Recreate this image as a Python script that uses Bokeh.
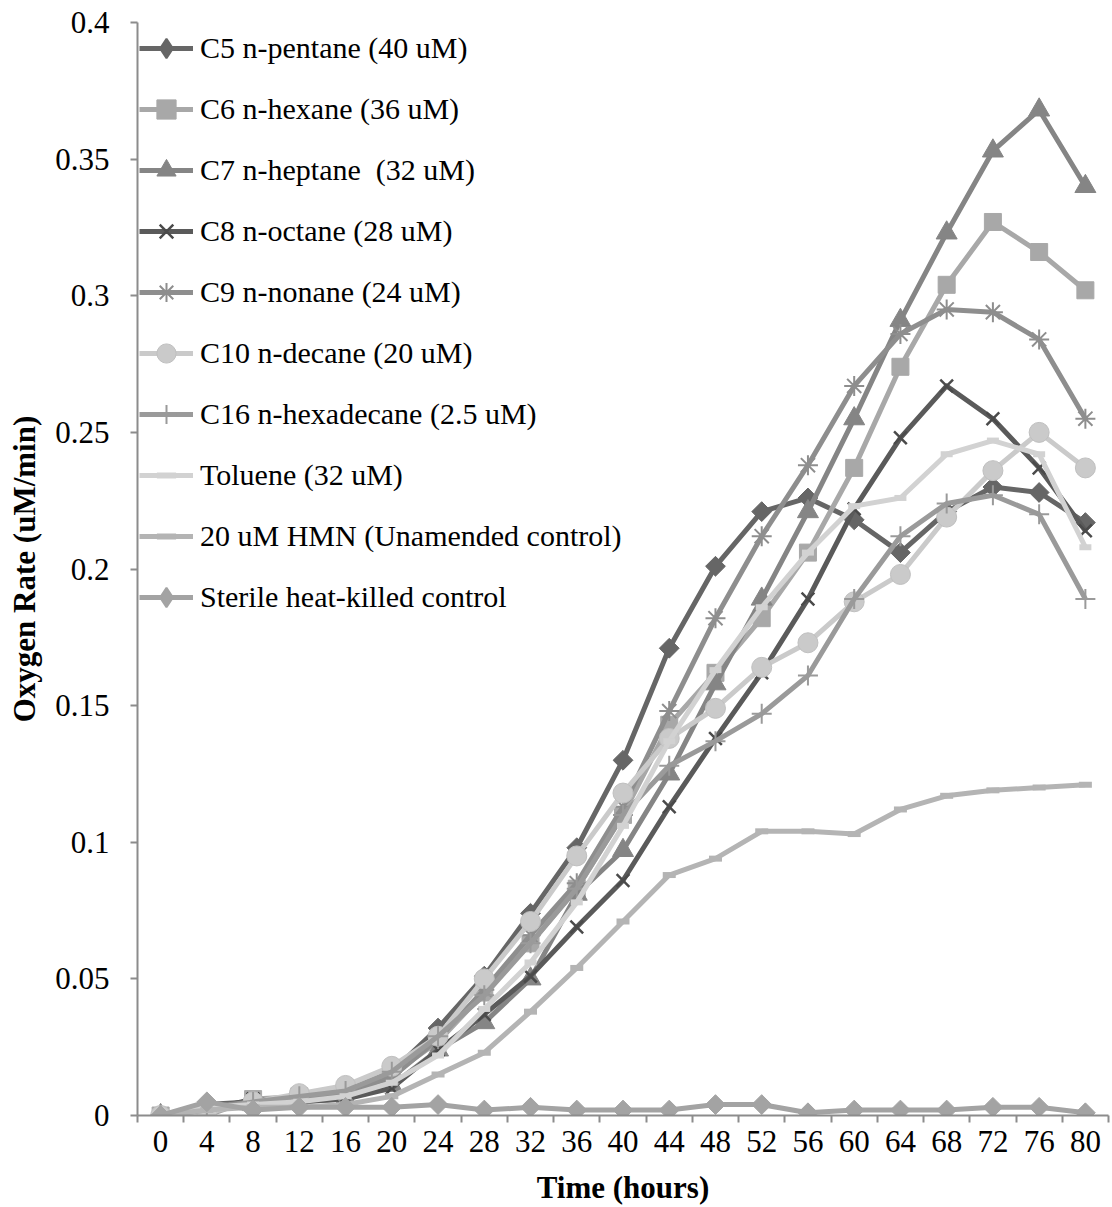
from bokeh.plotting import figure
from bokeh.models import Range1d, FixedTicker, Legend, LegendItem
from bokeh.embed import file_html
from bokeh.resources import INLINE
import math

hours = [0, 4, 8, 12, 16, 20, 24, 28, 32, 36, 40, 44, 48, 52, 56, 60, 64, 68, 72, 76, 80]

c5 = [0, 0.004, 0.005, 0.006, 0.008, 0.016, 0.032, 0.051, 0.074, 0.098, 0.130, 0.171, 0.201, 0.221, 0.226, 0.218, 0.206, 0.221, 0.230, 0.228, 0.217]
c6 = [0, 0, 0.006, 0.007, 0.009, 0.015, 0.027, 0.045, 0.063, 0.083, 0.110, 0.143, 0.162, 0.182, 0.206, 0.237, 0.274, 0.304, 0.327, 0.316, 0.302]
c7 = [0, 0.002, 0.004, 0.005, 0.006, 0.011, 0.024, 0.034, 0.050, 0.081, 0.097, 0.125, 0.158, 0.189, 0.221, 0.255, 0.291, 0.323, 0.353, 0.368, 0.340]
c8 = [0, 0.002, 0.006, 0.005, 0.006, 0.010, 0.024, 0.037, 0.051, 0.069, 0.086, 0.113, 0.138, 0.162, 0.189, 0.222, 0.248, 0.267, 0.255, 0.237, 0.214]
c9 = [0, 0.003, 0.005, 0.006, 0.008, 0.014, 0.028, 0.046, 0.066, 0.085, 0.113, 0.148, 0.182, 0.212, 0.238, 0.267, 0.286, 0.295, 0.294, 0.284, 0.255]
c10 = [0, 0.001, 0.005, 0.008, 0.011, 0.018, 0.029, 0.050, 0.071, 0.095, 0.118, 0.138, 0.149, 0.164, 0.173, 0.188, 0.198, 0.219, 0.236, 0.250, 0.237]
c16 = [0, 0.002, 0.005, 0.007, 0.009, 0.016, 0.029, 0.044, 0.063, 0.083, 0.110, 0.128, 0.137, 0.147, 0.161, 0.189, 0.212, 0.224, 0.227, 0.220, 0.189]
toluene = [0, 0.003, 0.004, 0.005, 0.007, 0.012, 0.022, 0.039, 0.056, 0.078, 0.106, 0.137, 0.163, 0.186, 0.206, 0.223, 0.226, 0.242, 0.247, 0.242, 0.208]
hmn = [0, 0.002, 0.003, 0.003, 0.004, 0.007, 0.015, 0.023, 0.038, 0.054, 0.071, 0.088, 0.094, 0.104, 0.104, 0.103, 0.112, 0.117, 0.119, 0.120, 0.121]
sterile = [0, 0.005, 0.002, 0.003, 0.003, 0.003, 0.004, 0.002, 0.003, 0.002, 0.002, 0.002, 0.004, 0.004, 0.001, 0.002, 0.002, 0.002, 0.003, 0.003, 0.001]

labels = [
    "C5 n-pentane (40 uM)",
    "C6 n-hexane (36 uM)",
    "C7 n-heptane  (32 uM)",
    "C8 n-octane (28 uM)",
    "C9 n-nonane (24 uM)",
    "C10 n-decane (20 uM)",
    "C16 n-hexadecane (2.5 uM)",
    "Toluene (32 uM)",
    "20 uM HMN (Unamended control)",
    "Sterile heat-killed control",
]
y_ticks = [0, 0.05, 0.1, 0.15, 0.2, 0.25, 0.3, 0.35, 0.4]
y_tick_labels = ["0", "0.05", "0.1", "0.15", "0.2", "0.25", "0.3", "0.35", "0.4"]

FONT = "Liberation Serif"

p = figure(width=1110, height=1207, output_backend="svg", toolbar_location=None,
           x_range=Range1d(-2, 82), y_range=Range1d(0, 0.4))
p.min_border_left = 137
p.min_border_right = 2
p.min_border_top = 22
p.min_border_bottom = 91
p.outline_line_color = None
p.grid.visible = False
p.background_fill_color = "white"
p.border_fill_color = "white"

# axes
xa = p.xaxis[0]
xa.ticker = FixedTicker(ticks=hours, minor_ticks=[h + 2 for h in [-4] + hours])
xa.major_tick_out = 0
xa.major_tick_in = 0
xa.minor_tick_out = 7
xa.minor_tick_in = 0
xa.axis_line_color = "#8c8c8c"
xa.axis_line_width = 2
xa.minor_tick_line_color = "#8c8c8c"
xa.minor_tick_line_width = 2
xa.major_label_text_font = FONT
xa.major_label_text_font_size = "31px"
xa.major_label_text_color = "black"
xa.major_label_standoff = 8
xa.axis_label = "Time (hours)"
xa.axis_label_text_font = FONT
xa.axis_label_text_font_size = "31px"
xa.axis_label_text_font_style = "bold"
xa.axis_label_text_color = "black"
xa.axis_label_standoff = 15

ya = p.yaxis[0]
ya.ticker = FixedTicker(ticks=y_ticks)
ya.major_label_overrides = {t: s for t, s in zip(y_ticks, y_tick_labels)}
ya.major_tick_out = 7
ya.major_tick_in = 0
ya.minor_tick_out = 0
ya.minor_tick_in = 0
ya.axis_line_color = "#8c8c8c"
ya.axis_line_width = 2
ya.major_tick_line_color = "#8c8c8c"
ya.major_tick_line_width = 2
ya.major_label_text_font = FONT
ya.major_label_text_font_size = "31px"
ya.major_label_text_color = "black"
ya.major_label_standoff = 21
ya.axis_label = "Oxygen Rate (uM/min)"
ya.axis_label_text_font = FONT
ya.axis_label_text_font_size = "31px"
ya.axis_label_text_font_style = "bold"
ya.axis_label_text_color = "black"
ya.axis_label_standoff = 10

series = [
    (c5, "#666666", dict(marker="square", size=14, angle=math.pi / 4, fill_color="#666666", line_color="#666666")),
    (c6, "#a8a8a8", dict(marker="square", size=17, fill_color="#a8a8a8", line_color="#a8a8a8")),
    (c7, "#858585", dict(marker="triangle", size=21, fill_color="#858585", line_color="#858585")),
    (c8, "#5a5a5a", dict(marker="x", size=18, line_width=2.5, line_color="#4a4a4a")),
    (c9, "#8e8e8e", dict(marker="asterisk", size=20, line_width=2, line_color="#8e8e8e")),
    (c10, "#cacaca", dict(marker="circle", size=20, fill_color="#cacaca", line_color="#c0c0c0")),
    (c16, "#9a9a9a", dict(marker="cross", size=20, line_width=2, line_color="#9a9a9a")),
    (toluene, "#d2d2d2", dict(marker="dash", size=12, line_width=6, line_color="#d2d2d2")),
    (hmn, "#b4b4b4", dict(marker="dash", size=13, line_width=6, line_color="#b4b4b4")),
    (sterile, "#a3a3a3", dict(marker="square", size=14, angle=math.pi / 4, fill_color="#a3a3a3", line_color="#a3a3a3")),
]

nan = float("nan")
items = []
for (vals, col, mk), lab in zip(series, labels):
    r1 = p.line(hours, vals, line_color=col, line_width=5, line_join="round")
    r2 = p.scatter(hours, vals, **mk)
    if mk.get("angle"):
        # legend glyph for the rotated-square (diamond) markers
        r3 = p.scatter([nan], [nan], marker="diamond", fill_color=col, line_color=col, line_width=2)
        items.append(LegendItem(label=lab, renderers=[r1, r3]))
    else:
        items.append(LegendItem(label=lab, renderers=[r1, r2]))

legend = Legend(items=items, location="top_left")
legend.label_text_font = FONT
legend.label_text_font_size = "30px"
legend.label_text_color = "black"
legend.glyph_width = 54
legend.glyph_height = 48
legend.label_height = 30
legend.label_standoff = 7
legend.spacing = 13
legend.padding = 0
legend.margin = 2
legend.border_line_color = None
legend.background_fill_alpha = 0
p.add_layout(legend)

open("out.html", "w").write(file_html(p, INLINE))
